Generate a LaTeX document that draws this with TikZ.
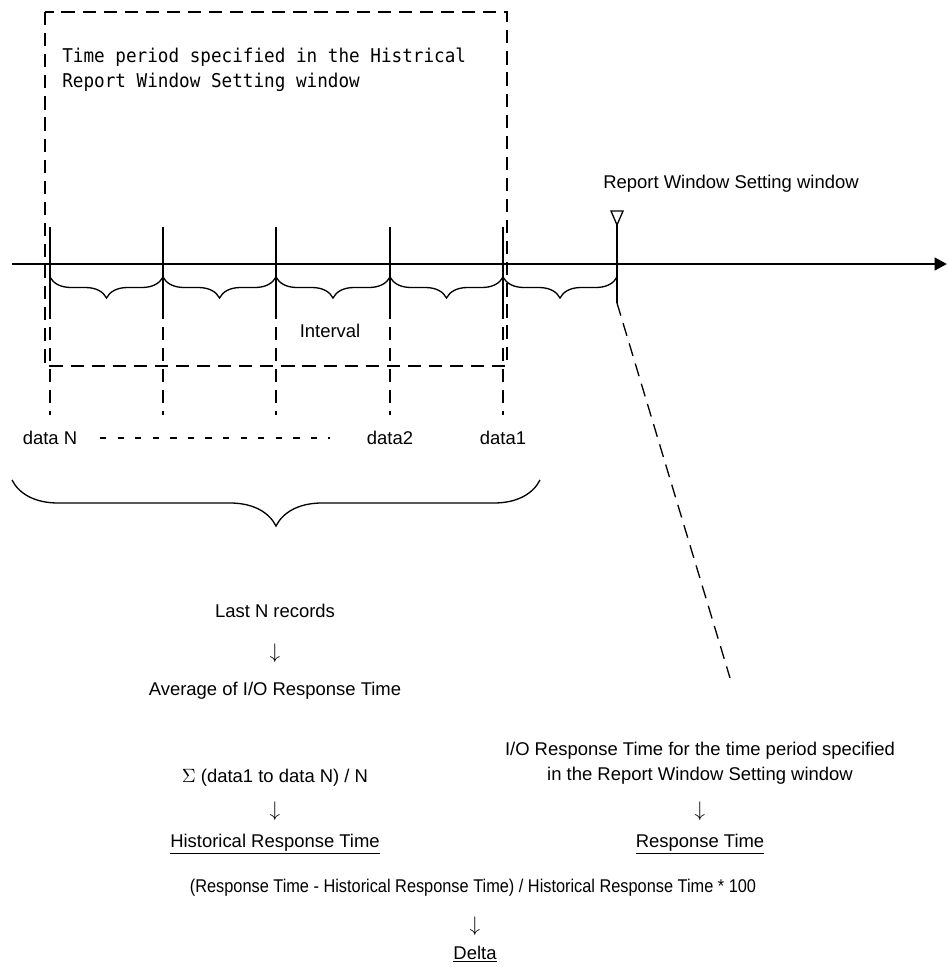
\documentclass[tikz,border=0pt]{standalone}
\usepackage{fontspec}
\setmainfont{Liberation Sans}
\newfontfamily\gothicfont{DejaVu Sans Mono}[FakeStretch=0.93]
\newfontfamily\narrowfont{Liberation Sans}[FakeStretch=0.885]
\usetikzlibrary{arrows.meta, decorations.pathreplacing}

\begin{document}
\begin{tikzpicture}[
		x=0.02cm, y=-0.02cm,
		txt/.style={font=\fontsize{10.5}{14.2}\selectfont, inner sep=0pt, anchor=base},
		note/.style={font=\gothicfont\fontsize{10.8}{14.2}\selectfont, inner sep=0pt, align=left, anchor=north west},
		downarrow/.style={font=\fontsize{12}{14}\selectfont, inner sep=0pt, anchor=base},
		timeline/.style={line width=1.7pt, -{Triangle[length=7pt, width=7pt]}},
		tickline/.style={line width=0.75pt},
		guide/.style={line width=0.75pt, dash pattern=on 7.5pt off 4.5pt},
		gapline/.style={line width=1.2pt, dash pattern=on 3.6pt off 6.4pt},
		ivbrace/.style={decorate, decoration={brace, mirror, amplitude=0.42cm}, line width=0.75pt},
		bigbrace/.style={decorate, decoration={brace, mirror, amplitude=0.92cm}, line width=0.75pt}
	]
	\useasboundingbox (0,0) rectangle (947,974);
	
	% --- Historical period box ---
	\draw[guide] (45,12) rectangle (507,366);
	\node[note] (period) at (62,48) {Time period specified in the Histrical\\Report Window Setting window};
	
	% --- Time axis ---
	\coordinate (start) at (12,264);
	\coordinate (stop) at (947,264);
	\draw[timeline] (start) -- (stop);
	
	% --- Ticks (data N ... data1, report point) ---
	\coordinate (t1) at (50,227);
	\coordinate (t2) at (163,227);
	\coordinate (t3) at (276,227);
	\coordinate (t4) at (390,227);
	\coordinate (t5) at (503,227);
	\coordinate (t6) at (617,225);
	\draw[tickline] (t1) -- ++(0,92);
	\draw[tickline] (t2) -- ++(0,92);
	\draw[tickline] (t3) -- ++(0,92);
	\draw[tickline] (t4) -- ++(0,92);
	\draw[tickline] (t5) -- ++(0,92);
	\draw[tickline] (t6) -- ++(0,78) coordinate (t6end);
	
	% --- Guides below ticks ---
	\draw[guide] (50,327) -- ++(0,88);
	\draw[guide] (163,327) -- ++(0,88);
	\draw[guide] (276,327) -- ++(0,88);
	\draw[guide] (390,327) -- ++(0,88);
	\draw[guide] (503,327) -- ++(0,88);
	
	% --- Interval braces ---
	\draw[ivbrace] (50,277) -- (163,277);
	\draw[ivbrace] (163,277) -- (276,277);
	\draw[ivbrace] (276,277) -- (390,277);
	\draw[ivbrace] (390,277) -- (503,277);
	\draw[ivbrace] (503,277) -- (617,277);
	\node[txt] (interval) at (330,337) {Interval};
	
	% --- Report point ---
	\draw[tickline] (611,211) -- (623,211) -- (617,225) -- cycle;
	\node[txt] (report) at (731,188) {Report Window Setting window};
	
	% --- Data labels ---
	\node[txt] (dataN) at (50,444) {data N};
	\node[txt] (data2) at (390,444) {data2};
	\node[txt] (data1) at (503,444) {data1};
	\draw[gapline] (100,438) -- (330,438);
	
	% --- Last N records ---
	\draw[bigbrace] (12,480) -- (540,480);
	\node[txt] (last) at (275,617) {Last N records};
	\node[downarrow] (down1) at (275,658) {$\downarrow$};
	\node[txt] (avg) at (275,695) {Average of I/O Response Time};
	\node[txt] (sum) at (275,782) {$\Sigma$ (data1 to data N) / N};
	\node[downarrow] (down2) at (275,816) {$\downarrow$};
	\node[txt] (hist) at (275,847) {\underline{Historical Response Time}};
	
	% --- Current response time ---
	\coordinate (curend) at (730,678);
	\draw[guide] (t6end) -- (curend);
	\node[txt, align=center, anchor=center] (cur) at (700,763) {I/O Response Time for the time period specified\\in the Report Window Setting window};
	\node[downarrow] (down3) at (700,816) {$\downarrow$};
	\node[txt] (resp) at (700,847) {\underline{Response Time}};
	
	% --- Delta ---
	\node[txt, font=\narrowfont\fontsize{10.5}{14.2}\selectfont] (formula) at (473,892) {(Response Time - Historical Response Time) / Historical Response Time * 100};
	\node[downarrow] (down4) at (475,931) {$\downarrow$};
	\node[txt] (delta) at (475,959) {\underline{Delta}};
	
\end{tikzpicture}
\end{document}
